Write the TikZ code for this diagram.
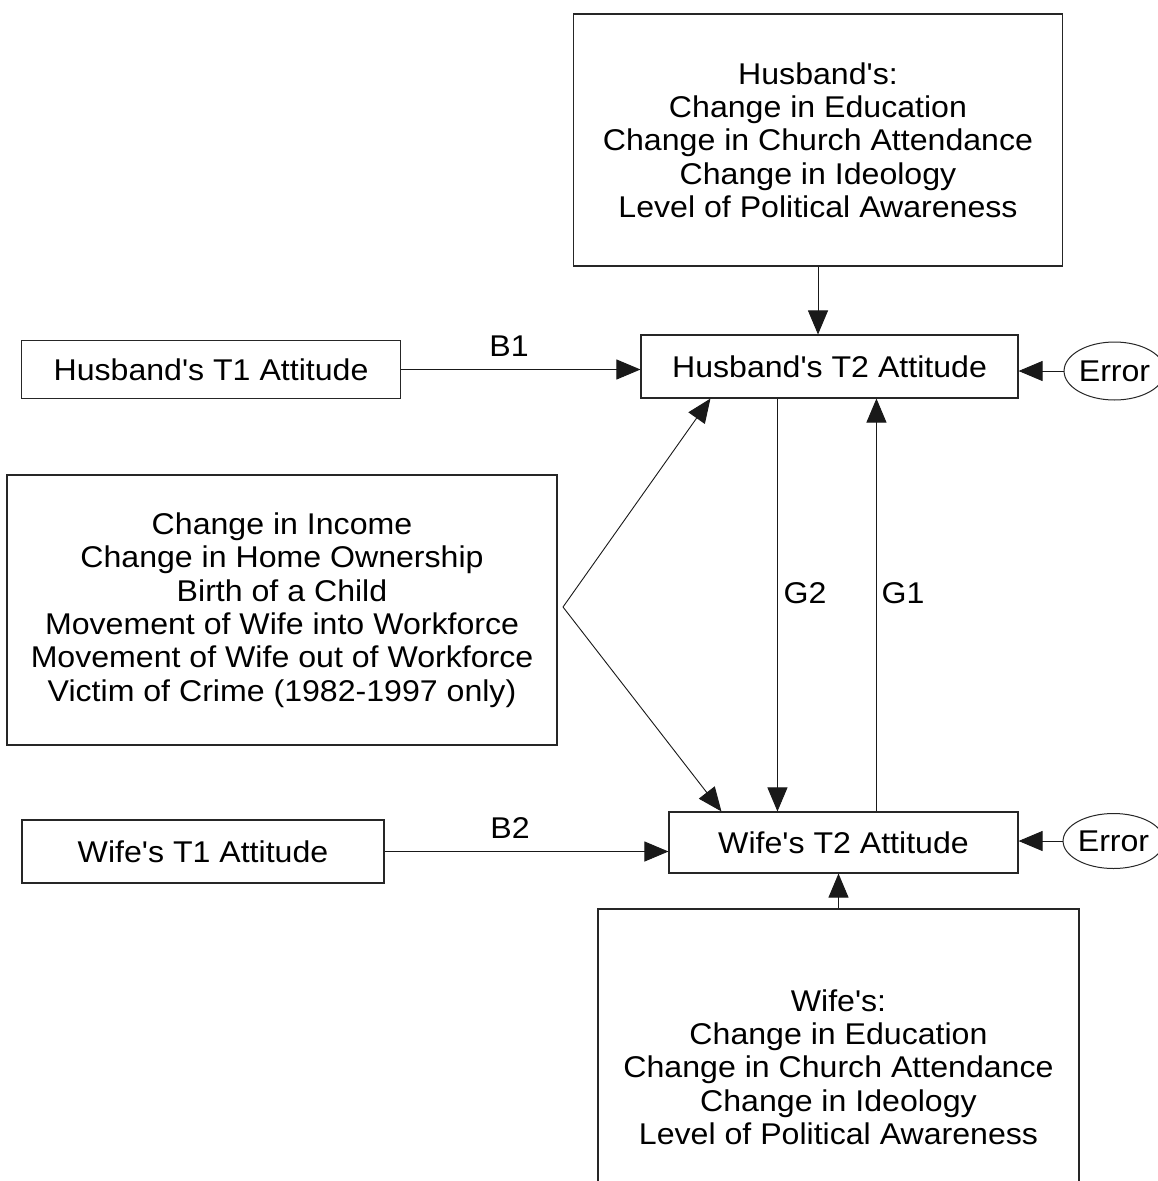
\documentclass[tikz,border=0pt]{standalone}
\usepackage{fontspec}
\setmainfont[FakeStretch=1.07,Ligatures=TeXOff]{Liberation Sans}
\usetikzlibrary{arrows.meta,calc,shapes.geometric}
\begin{document}
\begin{tikzpicture}[x=1pt,y=-1pt,
  every node/.style={font=\fontsize{30}{33.3}\selectfont},
  box/.style={draw=black!85,line width=1.1pt,rectangle,inner sep=0pt,align=center},
  errnode/.style={draw=black!85,line width=1pt,ellipse,inner sep=0pt},
  arr/.style={draw=black!90,line width=0.9pt,-{Triangle[length=24pt,width=20pt]}},
  lbl/.style={inner sep=0pt}]
\useasboundingbox (0,0) rectangle (1157,1181);
\fill[white] (0,0) rectangle (1157,1181);

\node[box,minimum width=489pt,minimum height=252pt] (top) at (818,140)
  {Husband's:\\Change in Education\\Change in Church Attendance\\Change in Ideology\\Level of Political Awareness};
\node[box,minimum width=379pt,minimum height=58pt] (hT1) at (211,369.5) {Husband's T1 Attitude};
\node[box,minimum width=377pt,minimum height=63pt] (hT2) at (829.5,366.5) {Husband's T2 Attitude};
\node[errnode,minimum width=81pt,minimum height=58pt] (errH) at (1114.5,371) {Error};
\node[box,minimum width=550pt,minimum height=270pt] (left) at (282,610)
  {Change in Income\\Change in Home Ownership\\Birth of a Child\\Movement of Wife into Workforce\\Movement of Wife out of Workforce\\Victim of Crime (1982-1997 only)};
\node[box,minimum width=362pt,minimum height=63pt] (wT1) at (203,851.5) {Wife's T1 Attitude};
\node[box,minimum width=349pt,minimum height=61pt] (wT2) at (843.5,842.5) {Wife's T2 Attitude};
\node[errnode,minimum width=83pt,minimum height=55pt] (errW) at (1113.5,841) {Error};
\begin{scope}
\clip (0,0) rectangle (1157,1181);
\node[box,minimum width=481pt,minimum height=316pt] (wb) at (838.5,1067)
  {Wife's:\\Change in Education\\Change in Church Attendance\\Change in Ideology\\Level of Political Awareness};
\end{scope}

\coordinate (src) at (563,607);

% connectors
\draw[arr] (top.south) -- (top.south |- hT2.north);
\draw[arr] (hT1.east) -- (hT1.east -| hT2.west);
\draw[arr] (errH.west) -- (errH.west -| hT2.east);
\draw[arr] (wT1.east) -- (wT1.east -| wT2.west);
\draw[arr] (errW.west) -- (errW.west -| wT2.east);
\draw[arr] (wb.north) -- (wb.north |- wT2.south);
\draw[arr] (src) -- ($(hT2.south west)+(70,0)$);
\draw[arr] (src) -- ($(wT2.north west)+(53,0)$);
\draw[arr] ($(hT2.south west)+(137,0)$) coordinate (g2s) -- (g2s |- wT2.north);
\draw[arr] ($(wT2.north west)+(208,0)$) coordinate (g1s) -- (g1s |- hT2.south);

% labels
\node[lbl] (B1) at (509,346) {B1};
\node[lbl] (B2) at (510,828) {B2};
\node[lbl] (G2) at (805,593) {G2};
\node[lbl] (G1) at (903,593) {G1};
\end{tikzpicture}
\end{document}
